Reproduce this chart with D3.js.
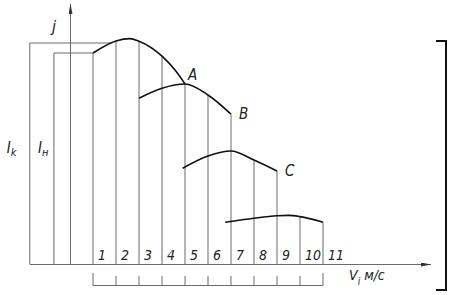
<!DOCTYPE html>
<html>
<head>
<meta charset="utf-8">
<script src="https://cdn.jsdelivr.net/npm/d3@7"></script>
<style>
    body { margin: 0; background: #fff; }
    svg text { font-family: "Liberation Sans Narrow", "DejaVu Sans Condensed", "Liberation Sans", sans-serif; font-style: italic; fill: #222; }
</style>
</head>
<body>
<div id="chart"></div>
<script>
// speeds on the V axis (м/с) and their labels
var speeds = [1, 2, 3, 4, 5, 6, 7, 8, 9, 10, 11];
var speedLabels = ['1', '2', '3', '4', '5', '6', '7', '8', '9', '10', '11'];

// j(V) curves, [V, j]
var curveNames = ['A', 'B', 'C', ''];
var curveA = [[1, 105.5], [2, 111.5], [2.6, 112.7], [3, 111.4], [4, 103.9], [4.55, 97.2], [5, 90]];
var curveB = [[3, 82.9], [4, 87.9], [5, 90], [6, 84.5], [7, 74.9]];
var curveC = [[4.9, 47.9], [6, 54], [7, 56.5], [8, 52], [9, 46.5]];
var curveD = [[6.75, 20.9], [8, 22.9], [9, 24.1], [9.5, 24.3], [10, 23.7], [11, 20.9]];

// levels I_k and I_н
var levelNames = ['k', 'н'];
var levelValues = [110.5, 105.5];
var levelFrom = [-1.75, -0.7];
var levelTo = [1.85, 1];

var width = 454, height = 295;
var baseY = 264;

var x = d3.scaleLinear().domain([1, 11]).range([93, 323]);
var y = d3.scaleLinear().domain([0, 130]).range([baseY, 4]);

var svg = d3.select('#chart').append('svg')
    .attr('width', width)
    .attr('height', height);

var defs = svg.append('defs');
defs.append('marker')
    .attr('id', 'arrow')
    .attr('viewBox', '0 0 10 4')
    .attr('refX', 10).attr('refY', 2)
    .attr('markerWidth', 10).attr('markerHeight', 4)
    .attr('markerUnits', 'userSpaceOnUse')
    .attr('orient', 'auto')
    .append('path').attr('d', 'M0,0L10,2L0,4Z').attr('fill', '#333');

var curves = [curveA, curveB, curveC, curveD];

// top of each speed line = highest curve value at that speed
var gridTops = speeds.map(function(s) {
    var top = 0;
    curves.forEach(function(c) {
        c.forEach(function(p) { if (p[0] === s && p[1] > top) top = p[1]; });
    });
    return top;
});

var thin = '#6a6a6a';

// level rectangles I_k, I_н
levelValues.forEach(function(v, i) {
    svg.append('path')
        .attr('d', 'M' + x(levelFrom[i]) + ',' + baseY + 'V' + y(v) + 'H' + x(levelTo[i]))
        .attr('fill', 'none').attr('stroke', thin).attr('stroke-width', 1);
});

var lbl = svg.selectAll('text.level').data(levelNames).enter().append('text')
    .attr('class', 'level')
    .attr('x', function(d, i) { return x(levelFrom[i]) - (i === 0 ? 23 : 16); })
    .attr('y', 153)
    .attr('font-size', 15);
lbl.append('tspan').text('I');
lbl.append('tspan').attr('dy', 3).attr('font-size', 11).text(function(d) { return d; });

// speed lines
svg.selectAll('line.grid').data(speeds).enter().append('line')
    .attr('class', 'grid')
    .attr('x1', function(d) { return x(d); })
    .attr('x2', function(d) { return x(d); })
    .attr('y1', baseY)
    .attr('y2', function(d, i) { return y(gridTops[i]); })
    .attr('stroke', thin).attr('stroke-width', 1);

svg.selectAll('text.num').data(speedLabels).enter().append('text')
    .attr('class', 'num')
    .attr('x', function(d, i) { return x(speeds[i]) + 5; })
    .attr('y', baseY - 4)
    .attr('font-size', 14)
    .text(function(d) { return d; });

// axes
svg.append('line')
    .attr('x1', x(levelFrom[0])).attr('y1', baseY + 0.5)
    .attr('x2', 431).attr('y2', baseY + 0.5)
    .attr('stroke', thin).attr('stroke-width', 1)
    .attr('marker-end', 'url(#arrow)');
svg.append('line')
    .attr('x1', x(0) + 0.5).attr('y1', baseY)
    .attr('x2', x(0) + 0.5).attr('y2', 4)
    .attr('stroke', thin).attr('stroke-width', 1)
    .attr('marker-end', 'url(#arrow)');

svg.append('text').attr('x', 52).attr('y', 32).attr('font-size', 16).text('j');

var vl = svg.append('text').attr('x', 349).attr('y', 280).attr('font-size', 14);
vl.append('tspan').text('V');
vl.append('tspan').attr('dy', 5).attr('font-size', 10).text('i');
vl.append('tspan').attr('dy', -5).attr('dx', 4).text('м/с');

// curves
var line = d3.line()
    .x(function(d) { return x(d[0]); })
    .y(function(d) { return y(d[1]); })
    .curve(d3.curveMonotoneX);

svg.selectAll('path.curve').data(curves).enter().append('path')
    .attr('class', 'curve')
    .attr('d', line)
    .attr('fill', 'none')
    .attr('stroke', '#111')
    .attr('stroke-width', 1.6);

svg.selectAll('text.cname').data(curveNames).enter().append('text')
    .attr('class', 'cname')
    .attr('x', function(d, i) { var p = curves[i][curves[i].length - 1]; return x(p[0]) + (i === 0 ? 3 : 8); })
    .attr('y', function(d, i) { var p = curves[i][curves[i].length - 1]; return y(p[1]) + (i === 0 ? -4 : 5); })
    .attr('font-size', 15)
    .text(function(d) { return d; });

// bracket under the speeds
svg.append('line')
    .attr('x1', x(speeds[0])).attr('x2', x(speeds[speeds.length - 1]))
    .attr('y1', 285.5).attr('y2', 285.5)
    .attr('stroke', thin).attr('stroke-width', 1);
svg.selectAll('line.tick').data(speeds).enter().append('line')
    .attr('class', 'tick')
    .attr('x1', function(d) { return x(d); })
    .attr('x2', function(d) { return x(d); })
    .attr('y1', 285.5)
    .attr('y2', function(d, i) { return (i === 0 || i === speeds.length - 1) ? 273 : 276; })
    .attr('stroke', thin).attr('stroke-width', 1);

// right frame bracket
svg.append('path')
    .attr('d', 'M436,41H446V290H436')
    .attr('fill', 'none').attr('stroke', '#111').attr('stroke-width', 2);
</script>
</body>
</html>
